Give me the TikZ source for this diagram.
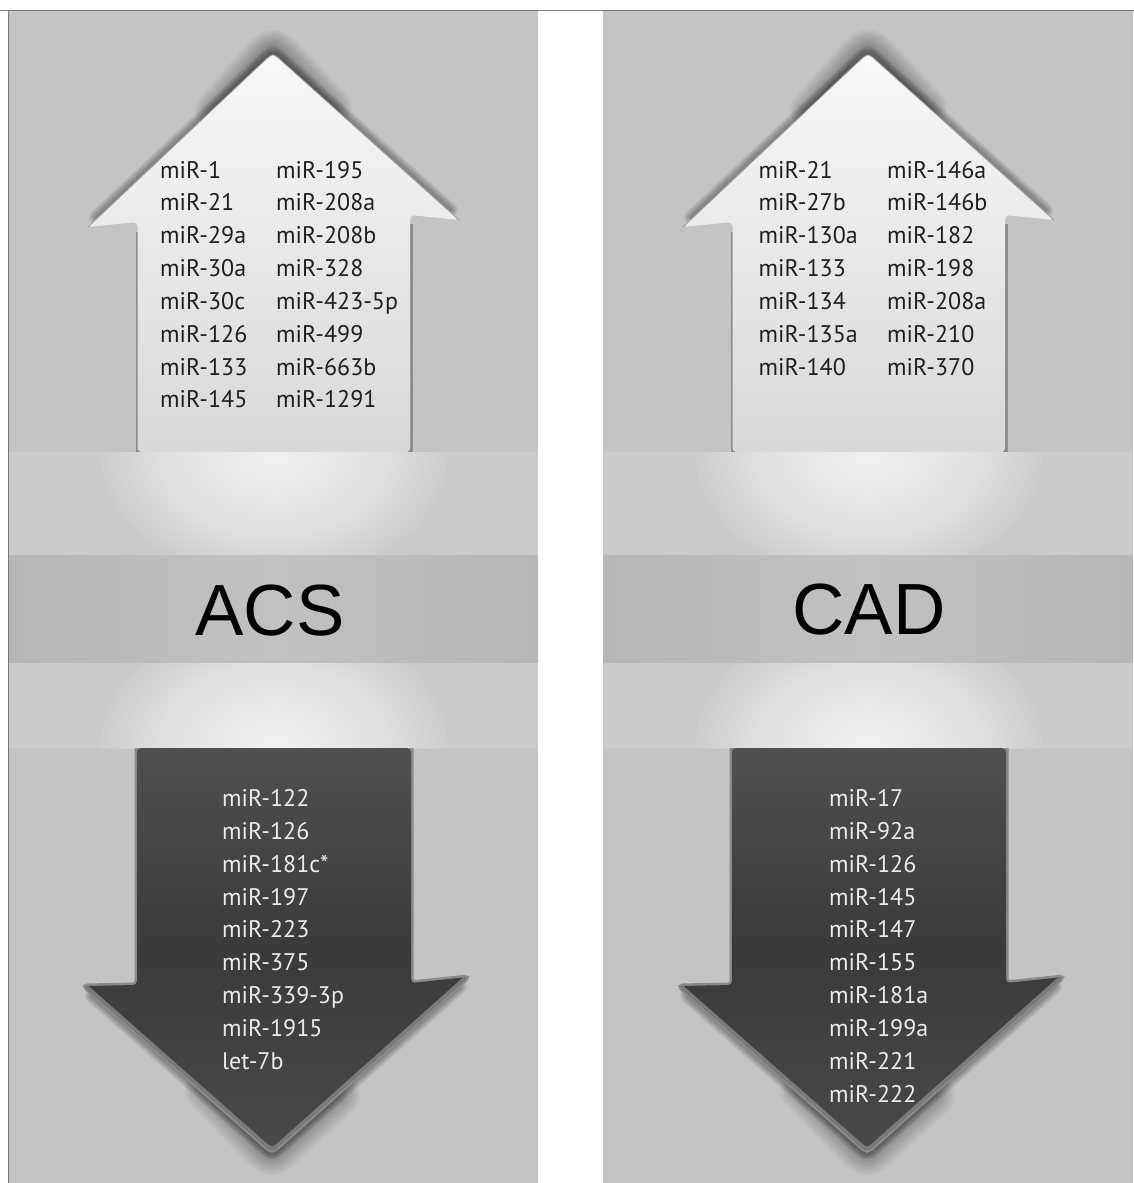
\documentclass[tikz,border=0pt]{standalone}
\usepackage{fontspec}
\setmainfont{PT Sans}
\newfontfamily\titlefont{Liberation Sans}

\definecolor{panelbg}{HTML}{C4C4C4}
\definecolor{bandside}{HTML}{B6B6B6}
\definecolor{bandmid}{HTML}{C1C1C1}
\definecolor{stripbase}{HTML}{CACACA}
\definecolor{uptop}{HTML}{F8F8F8}
\definecolor{upmid}{HTML}{E8E8E8}
\definecolor{upbot}{HTML}{D8D8D8}
\definecolor{dntop}{HTML}{505050}
\definecolor{dnmid}{HTML}{3A3A3A}
\definecolor{dnbot}{HTML}{4A4A4A}
\definecolor{rimdark}{HTML}{8C8C8C}
\definecolor{rimlight}{HTML}{8A8A8A}
\definecolor{bevel}{HTML}{7A7A7A}
\definecolor{edgeline}{HTML}{9A9A9A}
\definecolor{frameline}{HTML}{7A7A7A}
\definecolor{uptext}{HTML}{1F1F1F}
\definecolor{dntext}{HTML}{EBEBEB}

\tikzset{
  mirup/.style={anchor=base west, inner sep=0pt, text=uptext, font=\fontsize{24}{28}\selectfont},
  mirdown/.style={anchor=base west, inner sep=0pt, text=dntext, font=\fontsize{24}{28}\selectfont},
  disease/.style={anchor=base, inner sep=0pt, text=black, font=\titlefont\fontsize{72.5}{80}\selectfont},
  softshadow/.style={black, line join=round, line cap=round},
}

% outline of the up arrow (left panel coordinates)
\newcommand\uparrowoutline{(137.5,452) -- (137.5,222) -- (88,227) -- (262,63) .. controls (273,53) .. (284,63) -- (459,220) -- (410,215) -- (410,452) -- cycle}
% outline of the down arrow
\newcommand\downarrowoutline{(137,748) -- (137,985) -- (84,986) -- (260.7,1142) .. controls (272,1152) .. (283.2,1142) -- (468,977) -- (411,983) -- (411,748) -- cycle}

% one panel: background, glowing strips, band and both arrows
\newcommand\drawpanel{%
  \fill[panelbg] (8,11) rectangle (538,1183);
  % upper glowing strip
  \begin{scope}
    \clip (8,452) rectangle (538,555);
    \fill[stripbase] (8,452) rectangle (538,555);
    \foreach \k in {1,...,28} \fill[white, opacity=0.06] (274,452) ellipse ({6.2*\k} and {4.6*\k});
  \end{scope}
  % lower glowing strip
  \begin{scope}
    \clip (8,662) rectangle (538,748);
    \fill[stripbase] (8,662) rectangle (538,748);
    \foreach \k in {1,...,28} \fill[white, opacity=0.06] (274,748) ellipse ({6.2*\k} and {4.6*\k});
  \end{scope}
  % middle band
  \shade[left color=bandside, right color=bandside, middle color=bandmid] (8,555) rectangle (538,662);
  % up arrow: shadow along the head, halo over the tip
  \foreach \w in {2,4,...,14} \draw[softshadow, opacity=0.05, line width=\w pt] (96,217) -- (262,61) .. controls (273,51) .. (284,61) -- (451,210);
  \foreach \w in {4,8,...,40} \draw[softshadow, opacity=0.035, line width=\w pt] (215,111) -- (262,57) .. controls (273,47) .. (284,57) -- (332,108);
  % shaft rims, body, edge
  \draw[rimdark, line width=4pt] (137.5,232) -- (137.5,452);
  \draw[rimdark, line width=5pt] (410,224) -- (410,452);
  \shade[top color=uptop, bottom color=upbot, middle color=upmid, rounded corners=4pt] \uparrowoutline;
  \draw[edgeline, line width=0.8pt, rounded corners=4pt] (88,227) -- (262,63) .. controls (273,53) .. (284,63) -- (459,220);
  % down arrow: shadow under the head, halo under the tip
  \foreach \w in {2,4,...,14} \draw[softshadow, opacity=0.05, line width=\w pt] (92,996) -- (260.7,1145) .. controls (272,1155) .. (283.2,1145) -- (460,987);
  \foreach \w in {4,8,...,40} \draw[softshadow, opacity=0.03, line width=\w pt] (205,1090) -- (260.7,1148) .. controls (272,1158) .. (283.2,1148) -- (340,1096);
  % rim, body, bevel
  \draw[rimlight, line width=5pt, rounded corners=4pt] (137,748) -- (137,985) -- (84,986) -- (260.7,1142) .. controls (272,1152) .. (283.2,1142) -- (468,977) -- (411,983) -- (411,748);
  \shade[top color=dntop, bottom color=dnbot, middle color=dnmid, rounded corners=4pt] \downarrowoutline;
  \begin{scope}
    \clip[rounded corners=4pt] \downarrowoutline;
    \draw[bevel, line width=6pt] (84,986) -- (260.7,1142) .. controls (272,1152) .. (283.2,1142) -- (468,977);
  \end{scope}
}

\begin{document}
\begin{tikzpicture}[x=1pt, y=-1pt]
  \useasboundingbox (0,0) rectangle (1134,1183);
  \fill[white] (0,0) rectangle (1134,1183);

  % the two panels
  \drawpanel
  \begin{scope}[shift={(595,0)}]
    \drawpanel
  \end{scope}

  % frame lines
  \draw[frameline, line width=1.2pt] (0,10.5) -- (1134,10.5);
  \draw[frameline, line width=1pt] (8,10.5) -- (8,1183);

  % disease labels
  \node[disease] (acs) at (270,635) {ACS};
  \node[disease] (cad) at (869,634) {CAD};

  % ACS: up-regulated
  \foreach \t [count=\i] in {miR-1,miR-21,miR-29a,miR-30a,miR-30c,miR-126,miR-133,miR-145}
    \node[mirup] (acsupa\i) at (160,{178+32.85*(\i-1)}) {\t};
  \foreach \t [count=\i] in {miR-195,miR-208a,miR-208b,miR-328,miR-423-5p,miR-499,miR-663b,miR-1291}
    \node[mirup] (acsupb\i) at (276,{178+32.85*(\i-1)}) {\t};
  % ACS: down-regulated
  \foreach \t [count=\i] in {miR-122,miR-126,miR-181c*,miR-197,miR-223,miR-375,miR-339-3p,miR-1915,let-7b}
    \node[mirdown] (acsdn\i) at (222,{806.5+32.85*(\i-1)}) {\t};

  % CAD: up-regulated
  \foreach \t [count=\i] in {miR-21,miR-27b,miR-130a,miR-133,miR-134,miR-135a,miR-140}
    \node[mirup] (cadupa\i) at (758.5,{178+32.85*(\i-1)}) {\t};
  \foreach \t [count=\i] in {miR-146a,miR-146b,miR-182,miR-198,miR-208a,miR-210,miR-370}
    \node[mirup] (cadupb\i) at (887,{178+32.85*(\i-1)}) {\t};
  % CAD: down-regulated
  \foreach \t [count=\i] in {miR-17,miR-92a,miR-126,miR-145,miR-147,miR-155,miR-181a,miR-199a,miR-221,miR-222}
    \node[mirdown] (caddn\i) at (829,{806.5+32.85*(\i-1)}) {\t};
\end{tikzpicture}
\end{document}
